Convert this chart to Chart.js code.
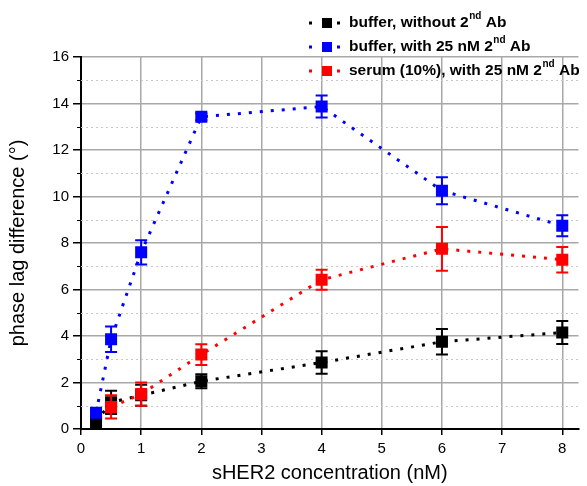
<!DOCTYPE html>
<html>
<head>
<meta charset="utf-8">
<script src="https://cdn.jsdelivr.net/npm/chart.js@4.4.1/dist/chart.umd.min.js"></script>
<style>
  html, body { margin: 0; padding: 0; background: #fff; }
  #wrap { width: 587px; height: 486px; }
</style>
</head>
<body>
<div id="wrap"><canvas id="c" width="587" height="486"></canvas></div>
<script>
// sHER2 concentration (nM)
const concAll = [0.25, 0.5, 1, 2, 4, 6, 8];
const concSerum = [0.5, 1, 2, 4, 6, 8];

// phase lag difference (°) and error bars
const bufferNoAb = [0.3, 1.15, 1.45, 2.05, 2.86, 3.75, 4.15];
const bufferNoAbErr = [0.15, 0.5, 0.45, 0.3, 0.48, 0.55, 0.49];
const bufferAb = [0.7, 3.86, 7.6, 13.43, 13.87, 10.25, 8.74];
const bufferAbErr = [0.12, 0.55, 0.52, 0.15, 0.47, 0.58, 0.45];
const serumAb = [0.95, 1.5, 3.2, 6.42, 7.75, 7.28];
const serumAbErr = [0.5, 0.5, 0.45, 0.43, 0.94, 0.55];

const xTicks = [0, 1, 2, 3, 4, 5, 6, 7, 8];
const yTicks = [0, 2, 4, 6, 8, 10, 12, 14, 16];
const yMinor = [1, 3, 5, 7, 9, 11, 13, 15];

const series = [
  { label: 'buffer, without 2', sup: 'nd', tail: ' Ab', color: '#000000', x: concAll, y: bufferNoAb, err: bufferNoAbErr, order: 3 },
  { label: 'buffer, with 25 nM 2', sup: 'nd', tail: ' Ab', color: '#0000ff', x: concAll, y: bufferAb, err: bufferAbErr, order: 2 },
  { label: 'serum (10%), with 25 nM 2', sup: 'nd', tail: ' Ab', color: '#ff0000', x: concSerum, y: serumAb, err: serumAbErr, order: 1 }
];

const FONT = 'Arial, "Liberation Sans", sans-serif';

// error bars, drawn right after each dataset
const errorBars = {
  id: 'errorBars',
  afterDatasetDraw(chart, args) {
    const s = series[args.index];
    const { ctx, scales: { x, y } } = chart;
    ctx.save();
    ctx.strokeStyle = s.color;
    ctx.lineWidth = 2;
    s.x.forEach((xv, i) => {
      const px = x.getPixelForValue(xv);
      const top = y.getPixelForValue(s.y[i] + s.err[i]);
      const bot = y.getPixelForValue(s.y[i] - s.err[i]);
      ctx.beginPath();
      ctx.moveTo(px, top); ctx.lineTo(px, bot);
      ctx.moveTo(px - 6, top); ctx.lineTo(px + 6, top);
      ctx.moveTo(px - 6, bot); ctx.lineTo(px + 6, bot);
      ctx.stroke();
    });
    ctx.restore();
  }
};

// minor dotted grid + minor ticks
const minorGrid = {
  id: 'minorGrid',
  beforeDatasetsDraw(chart) {
    const { ctx, chartArea: a, scales: { y } } = chart;
    ctx.save();
    ctx.lineWidth = 1;
    yMinor.forEach(v => {
      const py = Math.round(y.getPixelForValue(v)) + 0.5;
      ctx.strokeStyle = '#c8c8c8';
      ctx.setLineDash([2, 3]);
      ctx.beginPath(); ctx.moveTo(a.left, py); ctx.lineTo(a.right, py); ctx.stroke();
      ctx.setLineDash([]);
      ctx.strokeStyle = '#000';
      ctx.beginPath(); ctx.moveTo(a.left - 4, py); ctx.lineTo(a.left, py); ctx.stroke();
    });
    ctx.restore();
  }
};

// legend with superscripts
const legendBox = {
  id: 'legendBox',
  afterDraw(chart) {
    const { ctx } = chart;
    ctx.save();
    series.forEach((s, i) => {
      const cy = 23 + i * 24;
      ctx.fillStyle = s.color;
      ctx.fillRect(309, cy - 1.5, 3, 3);
      ctx.fillRect(322, cy - 5, 10, 10);
      ctx.fillRect(337, cy - 1.5, 3, 3);
      ctx.fillStyle = '#000';
      ctx.textBaseline = 'middle';
      ctx.font = 'bold 15.5px ' + FONT;
      let tx = 349;
      ctx.fillText(s.label, tx, cy);
      tx += ctx.measureText(s.label).width;
      ctx.font = 'bold 10px ' + FONT;
      ctx.fillText(s.sup, tx + 0.5, cy - 7);
      tx += ctx.measureText(s.sup).width + 0.5;
      ctx.font = 'bold 15.5px ' + FONT;
      ctx.fillText(s.tail, tx, cy);
    });
    ctx.restore();
  }
};

new Chart(document.getElementById('c'), {
  type: 'line',
  data: {
    datasets: series.map(s => ({
      label: s.label,
      data: s.x.map((xv, i) => ({ x: xv, y: s.y[i] })),
      borderColor: s.color,
      backgroundColor: s.color,
      borderWidth: 3,
      borderDash: [3, 8],
      pointStyle: 'rect',
      pointRadius: 8.5,
      pointBorderWidth: 0,
      pointHoverRadius: 8.5,
      tension: 0,
      order: s.order
    }))
  },
  options: {
    responsive: false,
    animation: false,
    layout: { padding: { top: 57, right: 0, left: 0, bottom: 0 } },
    plugins: { legend: { display: false }, tooltip: { enabled: false } },
    scales: {
      x: {
        type: 'linear',
        min: 0, max: 8.27,
        afterBuildTicks: s => { s.ticks = xTicks.map(v => ({ value: v })); },
        afterFit: s => { s.height = 57; },
        ticks: { color: '#000', font: { family: FONT, size: 15 }, padding: 5, maxRotation: 0 },
        grid: {
          color: c => c.tick && c.tick.value === 0 ? 'rgba(0,0,0,0)' : '#a8a8a8',
          lineWidth: 1.5,
          tickColor: '#000',
          tickLength: 6,
          tickWidth: 1.5
        },
        border: { color: '#000', width: 2 },
        title: { display: true, text: 'sHER2 concentration (nM)', color: '#000', font: { family: FONT, size: 20 }, padding: { top: 4, bottom: 1 } }
      },
      y: {
        type: 'linear',
        min: 0, max: 16,
        afterBuildTicks: s => { s.ticks = yTicks.map(v => ({ value: v })); },
        afterFit: s => { s.width = 81; },
        ticks: { color: '#000', font: { family: FONT, size: 15 }, padding: 4 },
        grid: {
          color: c => c.tick && c.tick.value === 0 ? 'rgba(0,0,0,0)' : '#a8a8a8',
          lineWidth: 1.5,
          tickColor: '#000',
          tickLength: 8,
          tickWidth: 1.5
        },
        border: { color: '#000', width: 2 },
        title: { display: true, text: 'phase lag difference (°)', color: '#000', font: { family: FONT, size: 20 }, padding: { top: 6, bottom: 4 } }
      }
    }
  },
  plugins: [minorGrid, errorBars, legendBox]
});
</script>
</body>
</html>
